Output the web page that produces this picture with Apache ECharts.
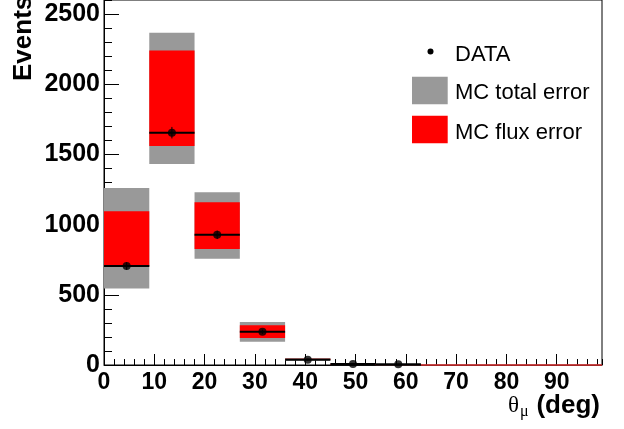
<!DOCTYPE html>
<html>
<head>
<meta charset="utf-8">
<script src="https://cdn.jsdelivr.net/npm/echarts@6/dist/echarts.min.js"></script>
<style>html,body{margin:0;padding:0;background:#fff;}#c{width:624px;height:429px;}</style>
</head>
<body>
<div id="c"></div>
<script>
// Bin edges (deg)
const binLo = [0, 9, 18, 27, 36, 45, 54, 63, 72, 81, 90];
const binHi = [9, 18, 27, 36, 45, 54, 63, 72, 81, 90, 99];
// MC total error band (low/high)
const totLow  = [545, 1432, 756, 166, 32, 3, 2, 0, 0, 0, 0];
const totHigh = [1261, 2366, 1230, 306, 50, 6, 4, 0, 0, 0, 0];
// MC flux error band (low/high)
const fluxLow  = [704, 1560, 827, 192, 36, 4, 3, 0, 0, 0, 0];
const fluxHigh = [1095, 2240, 1159, 284, 45, 5, 3, 0, 0, 0, 0];
// Data points
const dataLo = [0, 9, 18, 27, 36, 45, 54];
const dataHi = [9, 18, 27, 36, 45, 54, 63];
const dataX  = [4.5, 13.5, 22.5, 31.5, 40.5, 49.5, 58.5];
const dataY  = [705, 1655, 927, 237, 38, 7, 5];
const dataErr = [27, 41, 30, 15, 6, 3, 2];
const xTicks = [0, 10, 20, 30, 40, 50, 60, 70, 80, 90];
const yTicks = [0, 500, 1000, 1500, 2000, 2500];

const FONT = 'Liberation Sans, Arial, Helvetica, sans-serif';

function bandData(lo, hi, a, b) {
  return lo.map((l, i) => [l, hi[i], a[i], b[i]]);
}
function bandRender(color) {
  return function (params, api) {
    const p1 = api.coord([api.value(0), api.value(3)]);
    const p2 = api.coord([api.value(1), api.value(2)]);
    const h = p2[1] - p1[1];
    if (h < 1) {
      return {type: 'line', shape: {x1: p1[0], y1: p2[1], x2: p2[0], y2: p2[1]},
              style: {stroke: color, lineWidth: 1}};
    }
    return {type: 'rect', shape: {x: p1[0], y: p1[1], width: p2[0] - p1[0], height: h},
            style: {fill: color}};
  };
}

const chart = echarts.init(document.getElementById('c'), null, {renderer: 'canvas'});
const option = {
  animation: false,
  backgroundColor: '#fff',
  grid: {left: 104, top: 0, width: 498, height: 365, show: true, borderColor: '#000', borderWidth: 1, backgroundColor: 'transparent'},
  xAxis: [{
    type: 'value', min: 0, max: 99, interval: 10, gridIndex: 0,
    axisLine: {lineStyle: {color: '#000', width: 1}},
    axisTick: {inside: true, length: 11, lineStyle: {color: '#000'}},
    splitLine: {show: false},
    axisLabel: {showMaxLabel: false, margin: 6, color: '#000', fontSize: 23, fontWeight: 'bold', fontFamily: FONT,
      formatter: v => xTicks.indexOf(v) >= 0 ? String(v) : ''}
  }, {
    type: 'value', min: 0, max: 99, interval: 2, position: 'bottom',
    axisLine: {show: false},
    axisTick: {inside: true, length: 6, lineStyle: {color: '#000'}},
    axisLabel: {show: false}, splitLine: {show: false}
  }],
  yAxis: [{
    type: 'value', min: 0, max: 2600, interval: 500,
    axisLine: {show: true, lineStyle: {color: '#000', width: 1}},
    axisTick: {show: true, inside: true, length: 15, lineStyle: {color: '#000'}},
    splitLine: {show: false},
    axisLabel: {showMaxLabel: false, margin: 4, color: '#000', fontSize: 25, fontWeight: 'bold', fontFamily: FONT,
      formatter: v => yTicks.indexOf(v) >= 0 ? String(v) : ''}
  }, {
    type: 'value', min: 0, max: 2600, interval: 100, position: 'left',
    axisLine: {show: false},
    axisTick: {show: true, inside: true, length: 8, lineStyle: {color: '#000'}},
    axisLabel: {show: false}, splitLine: {show: false}
  }],
  series: [
    {
      name: 'MC total error', type: 'custom', xAxisIndex: 0, yAxisIndex: 0, z: 2,
      renderItem: bandRender('#999999'),
      encode: {x: [0, 1], y: [2, 3]},
      data: bandData(binLo, binHi, totLow, totHigh)
    },
    {
      name: 'MC flux error', type: 'custom', xAxisIndex: 0, yAxisIndex: 0, z: 3,
      renderItem: bandRender('#ff0000'),
      encode: {x: [0, 1], y: [2, 3]},
      data: bandData(binLo, binHi, fluxLow, fluxHigh)
    },
    {
      name: 'DATA errors', type: 'custom', xAxisIndex: 0, yAxisIndex: 0, z: 4,
      renderItem: function (params, api) {
        const lo = api.value(0), hi = api.value(1), x = api.value(2), y = api.value(3), e = api.value(4);
        const a = api.coord([lo, y]), b = api.coord([hi, y]);
        const c = api.coord([x, y - e]), d = api.coord([x, y + e]);
        return {type: 'group', children: [
          {type: 'line', shape: {x1: a[0], y1: a[1], x2: b[0], y2: b[1]}, style: {stroke: '#000', lineWidth: 2}},
          {type: 'line', shape: {x1: c[0], y1: c[1], x2: d[0], y2: d[1]}, style: {stroke: '#000', lineWidth: 1}}
        ]};
      },
      encode: {x: [0, 1], y: 3},
      data: dataX.map((x, i) => [dataLo[i], dataHi[i], x, dataY[i], dataErr[i]])
    },
    {
      name: 'DATA', type: 'scatter', xAxisIndex: 0, yAxisIndex: 0, z: 5,
      symbol: 'circle', symbolSize: 8, itemStyle: {color: '#000'},
      data: dataX.map((x, i) => [x, dataY[i]])
    }
  ],
  graphic: [
    {type: 'text', x: 24, y: 81, rotation: Math.PI / 2, z: 10,
     style: {text: 'Events', font: 'bold 26px ' + FONT, fill: '#000', align: 'left', verticalAlign: 'middle'}},
    {type: 'text', x: 508, y: 405.5, z: 10,
     style: {text: 'θ', font: '23px Liberation Serif, DejaVu Serif, serif', fill: '#000', align: 'left', verticalAlign: 'middle'}},
    {type: 'text', x: 520, y: 412, z: 10,
     style: {text: 'μ', font: '16px Liberation Serif, DejaVu Serif, serif', fill: '#000', align: 'left', verticalAlign: 'middle'}},
    {type: 'text', x: 600, y: 406, z: 10,
     style: {text: '(deg)', font: 'bold 26px ' + FONT, fill: '#000', align: 'right', verticalAlign: 'middle'}},
    // legend
    {type: 'circle', shape: {cx: 430.5, cy: 51.5, r: 3}, style: {fill: '#000'}, z: 10},
    {type: 'text', x: 455, y: 54.5, z: 10,
     style: {text: 'DATA', font: '22px ' + FONT, fill: '#000', align: 'left', verticalAlign: 'middle'}},
    {type: 'rect', shape: {x: 412, y: 76.7, width: 35.7, height: 27.6}, style: {fill: '#999999'}, z: 10},
    {type: 'text', x: 455, y: 93.3, z: 10,
     style: {text: 'MC total error', font: '22px ' + FONT, fill: '#000', align: 'left', verticalAlign: 'middle'}},
    {type: 'rect', shape: {x: 412, y: 115.7, width: 35.7, height: 27.6}, style: {fill: '#ff0000'}, z: 10},
    {type: 'text', x: 455, y: 132.5, z: 10,
     style: {text: 'MC flux error', font: '22px ' + FONT, fill: '#000', align: 'left', verticalAlign: 'middle'}}
  ]
};
chart.setOption(option);
</script>
</body>
</html>
